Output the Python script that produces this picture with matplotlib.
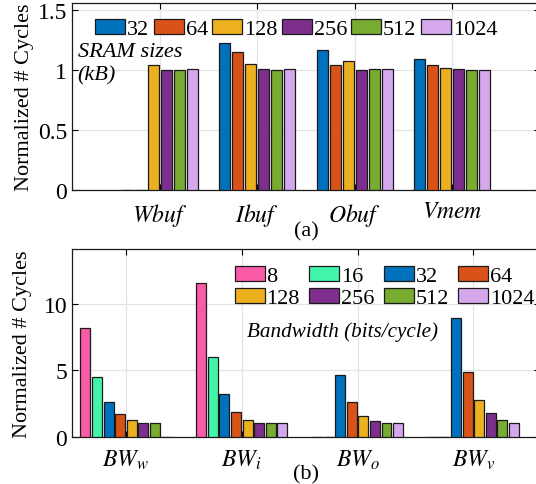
import numpy as np
import matplotlib
matplotlib.use('Agg')
import matplotlib.pyplot as plt

plt.rcParams['font.family'] = ['Liberation Serif', 'DejaVu Serif']
plt.rcParams['mathtext.fontset'] = 'stix'

# (a) SRAM sizes
sram_groups = ['$Wbuf$', '$Ibuf$', '$Obuf$', '$Vmem$']
sram_sizes = ['32', '64', '128', '256', '512', '1024']
sram_vals = [
	[0.0, 1.225, 1.164, 1.09],   # 32
	[0.0, 1.153, 1.04, 1.04],    # 64
	[1.04, 1.047, 1.075, 1.017], # 128
	[1.0, 1.01, 1.0, 1.01],      # 256
	[1.0, 1.0, 1.01, 1.0],       # 512
	[1.01, 1.01, 1.01, 1.0],     # 1024
]

# (b) bandwidth
bw_groups = ['$BW_w$', '$BW_i$', '$BW_o$', '$BW_v$']
bw_sizes = ['8', '16', '32', '64', '128', '256', '512', '1024']
bw_vals = [
	[8.2, 11.53, 0.0, 0.0],   # 8
	[4.5, 5.98, 0.0, 0.0],    # 16
	[2.63, 3.2, 4.65, 8.9],   # 32
	[1.70, 1.83, 2.58, 4.83], # 64
	[1.25, 1.23, 1.58, 2.78], # 128
	[1.05, 1.05, 1.15, 1.78], # 256
	[1.0, 1.0, 1.03, 1.23],   # 512
	[0.0, 1.0, 1.0, 1.0],     # 1024
]

colors = {
	'8': '#fa5ba8', '16': '#43f5ab', '32': '#0072bd', '64': '#d95319',
	'128': '#edb120', '256': '#7e2f8e', '512': '#77ac30', '1024': '#d5a8ee',
}

def grouped_bars(ax, names, vals):
	n = len(names)
	gw = 0.8
	step = gw / n
	x = np.arange(1, 5)
	bars = []
	for i, name in enumerate(names):
		off = -gw / 2 + step * (i + 0.5)
		b = ax.bar(x + off, vals[i], width=step * 0.86, color=colors[name],
				   edgecolor='#1a1a1a', linewidth=0.9, label=name, zorder=3)
		bars.append(b)
	ax.set_xticks(x)
	return bars

def style(ax):
	ax.grid(True, color='#e3e3e3', linewidth=0.9, zorder=0)
	ax.tick_params(direction='in', top=True, right=True, length=4,
				   labelsize=17, width=0.8)
	ax.tick_params(axis='x', pad=8, labelsize=17)
	for s in ax.spines.values():
		s.set_linewidth(0.9)
		s.set_color('#1a1a1a')

fig = plt.figure(figsize=(5.36, 4.85), dpi=100)

ax1 = fig.add_axes([0.1343, 0.606, 0.873, 0.386])
grouped_bars(ax1, sram_sizes, sram_vals)
ax1.set_xticklabels(sram_groups)
ax1.set_xlim(0.1, 4.9)
ax1.set_ylim(0, 1.56)
ax1.set_yticks([0, 0.5, 1, 1.5])
ax1.set_yticklabels(['0', '0.5', '1', '1.5'])
style(ax1)
ax1.set_ylabel('Normalized # Cycles', fontsize=16, labelpad=3)
ax1.set_xlabel('(a)', fontsize=16, labelpad=-5)
ax1.legend(ncol=6, loc='upper left', bbox_to_anchor=(0.05, 0.915),
		   frameon=False, fontsize=16, handlelength=1.35, handleheight=0.7,
		   handletextpad=0.08, columnspacing=0.2, borderaxespad=0, borderpad=0)
ax1.text(0.012, 0.79, 'SRAM sizes\n(kB)', transform=ax1.transAxes,
		 fontsize=16, style='italic', va='top', ha='left', linespacing=1.25)

ax2 = fig.add_axes([0.1343, 0.0975, 0.873, 0.387])
bars2 = grouped_bars(ax2, bw_sizes, bw_vals)
ax2.set_xticklabels(bw_groups)
ax2.set_xlim(0.534, 4.575)
ax2.set_ylim(0, 14.1)
ax2.set_yticks([0, 5, 10])
style(ax2)
ax2.set_ylabel('Normalized # Cycles', fontsize=16, labelpad=8)
ax2.set_xlabel('(b)', fontsize=16, labelpad=-5)
# row-wise order like the original legend
order = [0, 4, 1, 5, 2, 6, 3, 7]
ax2.legend([bars2[i] for i in order], [bw_sizes[i] for i in order],
		   ncol=4, loc='upper left', bbox_to_anchor=(0.348, 0.91),
		   frameon=False, fontsize=16, handlelength=1.35, handleheight=0.7,
		   handletextpad=0.08, columnspacing=0.42, borderaxespad=0, borderpad=0,
		   labelspacing=0.05)
ax2.text(0.578, 0.565, 'Bandwidth (bits/cycle)', transform=ax2.transAxes,
		 fontsize=15.2, style='italic', va='center', ha='center')

fig.savefig('out.png', dpi=100)
